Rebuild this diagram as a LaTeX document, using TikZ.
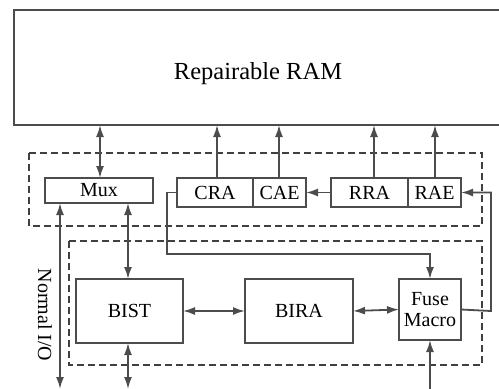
\documentclass[tikz,border=0pt]{standalone}
\usepackage{fontspec}
\setmainfont{Liberation Serif}
\usetikzlibrary{arrows.meta}
\begin{document}
\begin{tikzpicture}[x=1pt,y=-1pt,
  line col/.style={draw=black!70},
  blk/.style={line col, line width=2pt, rectangle, inner sep=0pt, outer sep=0pt,
              font=\fontsize{20}{23}\selectfont},
  grp/.style={draw=black!75, line width=1.5pt, dash pattern=on 7pt off 4pt},
  wire/.style={line col, line width=1.8pt},
  tip/.style={-{Latex[length=12pt,width=8pt]}},
  tips/.style={{Latex[length=12pt,width=8pt]}-{Latex[length=12pt,width=8pt]}}]
  \useasboundingbox (0,0) rectangle (499,389);

  % memory block (runs off the right edge)
  \node[blk, minimum width=490pt, minimum height=115pt] (ram) at (259,67.5) {};
  \node[font=\fontsize{24.5}{28}\selectfont, inner sep=0pt] (ramtext) at (258,74) {Repairable RAM};

  % group outlines
  \draw[grp] (29,153) rectangle (482,226);
  \draw[grp] (69,241) rectangle (482,365);

  % upper row
  \node[blk, minimum width=108pt, minimum height=25pt] (mux) at (99,190.5) {Mux};
  \node[blk, minimum width=76pt, minimum height=29pt] (cra) at (215,192.5) {CRA};
  \node[blk, minimum width=53pt, minimum height=29pt] (cae) at (279.5,192.5) {CAE};
  \node[blk, minimum width=77pt, minimum height=29pt] (rra) at (369.5,192.5) {RRA};
  \node[blk, minimum width=53pt, minimum height=29pt] (rae) at (434.5,192.5) {RAE};

  % lower row
  \node[blk, minimum width=107pt, minimum height=64pt] (bist) at (129.5,311) {BIST};
  \node[blk, minimum width=108pt, minimum height=64pt] (bira) at (299,311) {BIRA};
  \node[blk, minimum width=62pt, minimum height=61pt, align=center] (fuse) at (430,309.5) {Fuse\\[-2pt]Macro};

  % free ends at the bottom
  \coordinate (nio) at (60,389);
  \coordinate (bio) at (128,389);
  \coordinate (fin) at (430,389);

  % connections to the memory
  \draw[wire, tips] (mux.north -| 100,0) -- (ram.south -| 100,0);
  \draw[wire, tip] (cra.north -| 217,0) -- (ram.south -| 217,0);
  \draw[wire, tip] (cae.north -| 279,0) -- (ram.south -| 279,0);
  \draw[wire, tip] (rra.north -| 374,0) -- (ram.south -| 374,0);
  \draw[wire, tip] (rae.north -| 435,0) -- (ram.south -| 435,0);

  % register links
  \draw[wire, tip] (rra.west) -- (cae.east);
  \draw[wire, tip] (cra.west) -- (167,192.5) |- (430,254) -- (fuse.north);
  \draw[wire, tip] (fuse.east) -- (491,311) |- (rae.east);

  % test and repair path
  \draw[wire, tips] (mux.south -| 128,0) -- (bist.north -| 128,0);
  \draw[wire, tips] (bist.east) -- (bira.west);
  \draw[wire, tips] (bira.east) -- (fuse.west);
  \draw[wire, tips] (bist.south -| bio) -- (bio);
  \draw[wire, tip] (fin) -- (fuse.south);

  % normal data path
  \draw[wire, tips] (mux.south -| nio) -- (nio);
  \node[rotate=-90, font=\fontsize{20}{23}\selectfont, inner sep=0pt] (niolabel) at (45,315) {Normal I/O};
\end{tikzpicture}
\end{document}
